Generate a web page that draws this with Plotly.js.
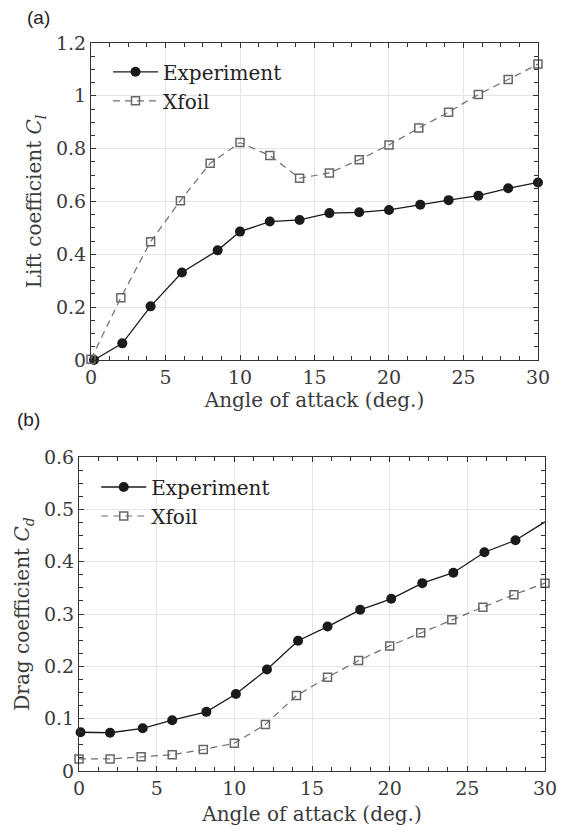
<!DOCTYPE html>
<html>
<head>
<meta charset="utf-8">
<script src="https://cdn.plot.ly/plotly-3.0.1.min.js"></script>
<style>html,body{margin:0;padding:0;background:#fff;}#chart{width:566px;height:836px;}</style>
</head>
<body>
<div id="chart"></div>
<script>
// ---- Data ----
const aoaExpCl = [0.2, 2.1, 4.0, 6.1, 8.5, 10, 12, 14, 16, 18, 20, 22.1, 24, 26, 28, 30];
const clExp    = [0, 0.063, 0.203, 0.331, 0.415, 0.486, 0.524, 0.530, 0.556, 0.559, 0.568, 0.588, 0.605, 0.622, 0.650, 0.672];
const aoaXfoil = [0, 2, 4, 6, 8, 10, 12, 14, 16, 18, 20, 22, 24, 26, 28, 30];
const clXfoil  = [0.003, 0.236, 0.448, 0.603, 0.745, 0.823, 0.774, 0.688, 0.708, 0.758, 0.814, 0.878, 0.938, 1.005, 1.062, 1.120];
const aoaExpCd = [0.1, 2.0, 4.1, 6.0, 8.2, 10.1, 12.1, 14.1, 16.0, 18.1, 20.1, 22.1, 24.1, 26.1, 28.1, 30];
const cdExp    = [0.074, 0.073, 0.0815, 0.097, 0.113, 0.147, 0.194, 0.249, 0.276, 0.308, 0.329, 0.359, 0.379, 0.418, 0.441, 0.476];
const cdXfoil  = [0.023, 0.023, 0.027, 0.031, 0.041, 0.053, 0.089, 0.144, 0.179, 0.211, 0.239, 0.264, 0.289, 0.313, 0.337, 0.359];
const seriesNames = ['Experiment', 'Xfoil'];
const panelLabels = ['(a)', '(b)'];

// ---- Styles ----
const expLine = {color: '#1a1a1a', width: 1.3};
const expMarker = {symbol: 'circle', size: 10, color: '#1a1a1a'};
const xfLine = {color: '#6e6e6e', width: 1.2, dash: '7px,5px'};
const xfMarker = {symbol: 'square-open', size: 8, color: '#666', line: {width: 1.5, color: '#666'}};

// last experimental drag point has no visible marker in the original (line only)
const cdExpShown = aoaExpCd.map((v, i) => i).slice(0, aoaExpCd.length - 1);

const traces = [
  {x: aoaExpCl, y: clExp, name: seriesNames[0], mode: 'lines+markers', line: expLine, marker: expMarker,
   xaxis: 'x', yaxis: 'y', legend: 'legend', cliponaxis: false},
  {x: aoaXfoil, y: clXfoil, name: seriesNames[1], mode: 'lines+markers', line: xfLine, marker: xfMarker,
   xaxis: 'x', yaxis: 'y', legend: 'legend', cliponaxis: false},
  {x: aoaExpCd, y: cdExp, name: seriesNames[0], mode: 'lines+markers', line: expLine, marker: expMarker,
   selectedpoints: cdExpShown, selected: {marker: {opacity: 1}}, unselected: {marker: {opacity: 0}},
   xaxis: 'x2', yaxis: 'y2', legend: 'legend2', cliponaxis: false},
  {x: aoaXfoil, y: cdXfoil, name: seriesNames[1], mode: 'lines+markers', line: xfLine, marker: xfMarker,
   xaxis: 'x2', yaxis: 'y2', legend: 'legend2', cliponaxis: false}
];

const SERIF = 'DejaVu Serif';
const tickFont = {family: SERIF, size: 19, color: '#3a3a3a'};
const titleFont = {family: SERIF, size: 20, color: '#3a3a3a'};

function xAx(domain, anchor, standoff) {
  return {
    domain: domain, anchor: anchor, range: [0, 30], dtick: 5, tick0: 0,
    ticks: 'inside', ticklen: 5, tickcolor: '#333', tickwidth: 1,
    showline: true, linecolor: '#333', linewidth: 1, mirror: 'allticks',
    showgrid: true, gridcolor: '#e4e4e4', gridwidth: 1, zeroline: false,
    minor: {dtick: 1.25, tick0: 0, ticks: 'inside', ticklen: 4, tickcolor: '#333', showgrid: false},
    tickfont: tickFont,
    title: {text: 'Angle of attack (deg.)', font: titleFont, standoff: standoff}
  };
}
function yAx(domain, anchor, range, dtick, minorD, title) {
  return {
    domain: domain, anchor: anchor, range: range, dtick: dtick, tick0: 0,
    ticks: 'inside', ticklen: 5, tickcolor: '#333', tickwidth: 1,
    showline: true, linecolor: '#333', linewidth: 1, mirror: 'allticks',
    showgrid: true, gridcolor: '#e4e4e4', gridwidth: 1, zeroline: false,
    minor: {dtick: minorD, tick0: 0, ticks: 'inside', ticklen: 4, tickcolor: '#333', showgrid: false},
    tickfont: tickFont,
    title: {text: title, font: titleFont, standoff: 8}
  };
}

const legendStyle = {
  font: {family: SERIF, size: 20, color: '#222'},
  bgcolor: 'rgba(0,0,0,0)', borderwidth: 0, itemwidth: 45,
  xanchor: 'left', yanchor: 'top', tracegroupgap: 0
};

const layout = {
  width: 566, height: 836,
  margin: {l: 0, r: 0, t: 0, b: 0},
  paper_bgcolor: '#fff', plot_bgcolor: '#fff',
  font: {family: SERIF, color: '#333'},
  showlegend: true,
  xaxis: xAx([0.1608, 0.9505], 'y', 2),
  yaxis: yAx([0.5694, 0.9486], 'x', [0, 1.2], 0.2, 0.05, 'Lift coefficient <i>C<sub>l</sub></i>'),
  xaxis2: xAx([0.1396, 0.9629], 'y2', 9),
  yaxis2: yAx([0.0778, 0.4533], 'x2', [0, 0.6], 0.1, 0.025, 'Drag coefficient <i>C<sub>d</sub></i>'),
  legend: Object.assign({x: 0.1908, y: 0.9374}, legendStyle),
  legend2: Object.assign({x: 0.170, y: 0.4408}, legendStyle),
  annotations: [
    {text: panelLabels[0], xref: 'paper', yref: 'paper', x: 38/566, y: 1 - 17/836, xanchor: 'center', yanchor: 'middle',
     showarrow: false, font: {family: 'Liberation Sans', size: 19, color: '#222'}},
    {text: panelLabels[1], xref: 'paper', yref: 'paper', x: 28/566, y: 1 - 420/836, xanchor: 'center', yanchor: 'middle',
     showarrow: false, font: {family: 'Liberation Sans', size: 19, color: '#222'}}
  ]
};

Plotly.newPlot('chart', traces, layout, {staticPlot: true, displayModeBar: false});
</script>
</body>
</html>
